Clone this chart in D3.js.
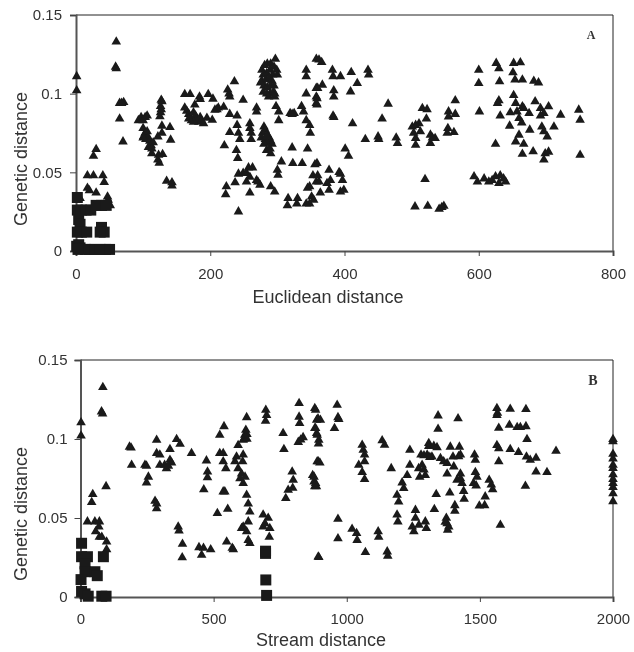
<!DOCTYPE html>
<html>
<head>
<meta charset="utf-8">
<script src="https://cdn.jsdelivr.net/npm/d3@7.9.0/dist/d3.min.js"></script>
<style>
  body { margin: 0; background: #fff; }
  svg { display: block; filter: blur(0.4px); }
  text { font-family: "Liberation Sans", Arial, sans-serif; fill: #333; }
</style>
</head>
<body>
<svg id="chart" width="634" height="652"></svg>
<script>
// Panel A: [euclidean distance, genetic distance]
const euclideanFar = [
  [1,.111],[1,.102],[60,.133],[59,.117],[60,.116],[65,.094],[71,.0945],[68,.094],[65,.084],[70,.0695],
  [30,.0647],[26,.0604],[17,.048],[26,.048],[40,.048],[42,.0437],[17,.04],[20,.0385],[30,.037],[6,.0335],
  [48,.0325],[51,.029],[47,.0345],[45,.03],
  [93,.083],[97,.085],[100,.083],[103,.085],[106,.086],[100,.078],[103,.075],[101,.073],[104,.071],[106,.076],
  [108,.072],[100,.072],[110,.07],[112,.067],[115,.069],[108,.066],[113,.065],[113,.062],[123,.061],[129,.0615],
  [122,.058],[124,.056],[127,.096],[128,.095],[126,.092],[127,.09],[126,.088],[125,.0855],[128,.0795],[140,.0787],
  [128,.075],[122,.0727],[141,.0706],[135,.0445],[143,.0435],[143,.0415],
  [162,.0996],[170,.0996],[184,.098],[185,.0965],[197,.0996],[204,.0967],[162,.091],[177,.093],[165,.089],[168,.087],
  [170,.085],[172,.083],[175,.088],[178,.086],[180,.084],[183,.082],[185,.085],[187,.083],[175,.082],[190,.081],
  [168,.084],[195,.0845],[203,.0833],[207,.0897],[212,.091],[220,.0915],[210,.09],
  [226,.1025],[236,.1077],[229,.098],[228,.1],[249,.096],[229,.087],[240,.086],[240,.08],[229,.0755],[242,.075],
  [244,.071],[221,.067],[239,.064],[241,.059],[269,.091],[269,.0886],[259,.081],[259,.078],[261,.075],[261,.071],
  [280,.079],[282,.077],[278,.075],[285,.074],[288,.072],[276,.072],[282,.071],[290,.07],[285,.069],[292,.068],
  [280,.068],[284,.073],[284,.064],[290,.062],[289,.065],
  [277,.115],[281,.118],[285,.119],[290,.119],[295,.117],[299,.115],[279,.112],[284,.113],[289,.115],[293,.112],
  [300,.112],[277,.108],[283,.109],[288,.11],[292,.108],[280,.105],[285,.104],[290,.105],[295,.105],[279,.101],
  [284,.1],[289,.1],[294,.101],[287,.098],[296,.1],[275,.107],[297,.122],[298,.092],[302,.0886],[302,.083],[296,.098],
  [319,.0875],[322,.087],[325,.0875],[336,.092],[339,.0886],[343,.115],[343,.111],[358,.122],[343,.1],[358,.1035],
  [358,.098],[358,.094],[343,.083],[348,.08],[349,.075],[322,.0657],[345,.065],
  [306,.0568],[300,.0515],[301,.0483],[323,.0558],[337,.0558],[356,.055],[353,.048],[348,.041],[358,.044],[345,.04],
  [351,.0345],[348,.03],[343,.03],[316,.0335],[315,.029],[330,.0335],[329,.03],[237,.0435],[224,.041],[223,.036],
  [242,.025],[259,.037],[290,.041],[296,.0377],[257,.053],[263,.053],[242,.049],[249,.0495],[254,.0495],[254,.044],
  [259,.047],[269,.045],[274,.042],[271,.044],
  [362,.1215],[366,.12],[382,.115],[383,.111],[394,.111],[410,.1136],[435,.115],[436,.112],[419,.1066],[409,.1013],
  [367,.1056],[360,.1035],[384,.102],[384,.098],[359,.097],[359,.093],[383,.086],[384,.085],[412,.081],[456,.084],
  [465,.0935],[431,.071],[450,.0727],[451,.071],[477,.072],[479,.0685],[401,.065],[406,.0604],
  [359,.0558],[377,.0515],[392,.05],[362,.044],[379,.045],[397,.045],[377,.0388],[364,.037],[394,.0377],[399,.0388],
  [354,.0325],[394,.049],[374,.043],[360,.048],
  [505,.0282],[524,.0286],[541,.0267],[548,.0286],[545,.0278],[520,.0456],[516,.0907],[523,.09],[522,.084],
  [501,.079],[511,.081],[506,.08],[513,.076],[503,.075],[506,.0717],[506,.0674],[528,.0738],[535,.0717],[528,.0685],
  [531,.072],[565,.0956],[555,.0886],[565,.087],[555,.0854],[554,.078],[563,.0755],[553,.075],
  [600,.115],[600,.1066],[601,.0886],[626,.1194],[630,.116],[631,.1077],[652,.1194],[662,.1198],[651,.1134],[654,.1088],
  [665,.1088],[682,.108],[689,.107],[652,.099],[630,.0956],[628,.094],[632,.086],[655,.094],[665,.0918],[647,.088],
  [657,.0886],[667,.0907],[675,.0875],[684,.095],[692,.0907],[704,.0918],[697,.0875],[692,.086],[722,.0865],
  [646,.0795],[664,.0816],[660,.0844],[676,.077],[694,.079],[697,.076],[712,.079],[702,.0727],[660,.0738],[655,.0695],
  [667,.068],[625,.068],[665,.0617],[681,.0632],[699,.062],[704,.063],[697,.058],[749,.0897],[751,.0833],[751,.061],
  [593,.0473],[598,.044],[608,.046],[615,.044],[625,.0473],[632,.048],[640,.044],[630,.043],[620,.045],[637,.046]
];
const euclideanNear = [
  [2,.034],[2,.026],[8,.026],[15,.026],[22,.026],[30,.029],[38,.029],[45,.029],[4,.02],[6,.017],
  [2,.012],[8,.012],[16,.012],[38,.015],[42,.012],[36,.012],[1,.003],[4,.004],[6,.002],[14,.001],
  [20,.001],[28,.001],[36,.001],[44,.001],[50,.001],[3,.001]
];

// Panel B: [stream distance, genetic distance]
const streamFar = [
  [2,.1104],[2,.102],[84,.1327],[79,.1173],[83,.116],[96,.07],[46,.065],[42,.06],[26,.0477],[54,.0477],
  [71,.0477],[69,.0445],[57,.0414],[71,.038],[98,.035],[98,.03],[80,.038],
  [190,.0945],[184,.095],[192,.0835],[242,.0835],[248,.083],[255,.076],[248,.0724],[286,.0994],[286,.091],[298,.09],
  [298,.0835],[323,.0814],[336,.0867],[336,.0935],[361,.0998],[374,.0968],[417,.091],[342,.085],[316,.0835],[330,.083],
  [280,.0608],[286,.056],[286,.059],[367,.0445],[370,.042],[383,.0335],[382,.025],[445,.0314],[455,.0266],[462,.031],
  [489,.03],[473,.0863],[477,.0793],[477,.0757],[463,.068],[539,.108],[523,.1025],[523,.091],[536,.091],[536,.0857],
  [546,.0814],[536,.0667],[542,.0667],[514,.053],[553,.0557],[549,.035],[570,.031],[574,.03],
  [624,.1137],[621,.1057],[617,.1025],[611,.0994],[592,.096],[586,.0888],[580,.0857],[611,.09],[609,.0857],[592,.0814],
  [605,.078],[599,.075],[611,.072],[624,.0646],[630,.059],[636,.054],[630,.0477],[611,.0445],[624,.0414],[630,.036],
  [636,.034],[605,.0435],[625,.103],[614,.1],[618,.076],[625,.1],
  [696,.1184],[695,.1114],[699,.115],[686,.052],[705,.05],[686,.0445],[711,.0435],[709,.038],[693,.0465],
  [761,.1036],[764,.0935],[795,.0793],[799,.074],[780,.0677],[771,.0625],[797,.069],[821,.1226],[821,.114],[823,.11],
  [818,.098],[836,.101],[827,.0995],[880,.1194],[887,.112],[880,.1068],[887,.1036],[893,.0857],[872,.077],[877,.073],
  [880,.07],[893,.0255],
  [883,.1184],[892,.113],[901,.112],[883,.1068],[889,.1025],[895,.0994],[894,.097],[889,.0857],[899,.085],[877,.076],
  [883,.072],[886,.07],[964,.1215],[967,.1137],[970,.1125],[954,.1068],[967,.0494],[967,.037],[895,.0251],
  [1020,.043],[1037,.0403],[1039,.036],[1070,.0283],[1118,.0414],[1120,.038],[1152,.0287],[1154,.026],
  [1058,.0962],[1062,.093],[1067,.09],[1045,.0835],[1067,.0857],[1058,.079],[1067,.0745],[1133,.099],[1142,.0962],
  [1167,.0814],[1237,.093],[1237,.0835],[1227,.077],[1208,.0724],[1214,.0688],[1189,.0645],[1195,.0603],[1189,.052],
  [1192,.0477],[1258,.055],[1258,.05],[1246,.0445],[1252,.0414],[1271,.0456],[1295,.0477],[1299,.0435],[1329,.0555],
  [1336,.065],[1387,.066],[1406,.058],[1406,.0544],[1374,.05],[1377,.0466],[1379,.0424],[1370,.0475],[1383,.0445],
  [1343,.1148],[1343,.1063],[1418,.113],[1308,.0973],[1279,.09],[1302,.09],[1320,.0888],[1308,.0955],[1339,.0947],
  [1327,.0955],[1389,.095],[1423,.095],[1352,.0878],[1364,.0857],[1377,.0846],[1399,.0888],[1427,.09],[1420,.089],
  [1402,.0825],[1290,.0895],[1312,.0885],[1270,.0814],[1283,.0835],[1295,.077],[1274,.076],[1290,.0805],
  [1377,.078],[1427,.078],[1414,.074],[1433,.072],[1439,.067],[1441,.062],[1427,.075],[1480,.09],[1483,.0867],
  [1483,.079],[1489,.076],[1476,.072],[1486,.0705],[1535,.074],[1543,.071],[1548,.068],[1520,.0635],[1498,.0578],
  [1518,.058],[1577,.0456],[1571,.0857],[1564,.1194],[1566,.1165],[1564,.115],[1571,.107],[1564,.096],[1571,.094],
  [1614,.119],[1673,.1188],[1611,.1088],[1640,.1074],[1652,.1074],[1673,.108],[1614,.0935],[1645,.0916],[1677,.0998],
  [1675,.0888],[1689,.0867],[1711,.088],[1711,.0793],[1752,.079],[1786,.0924],[1671,.0703],
  [2000,.0998],[2000,.0985],[2000,.0905],[2000,.0875],[2000,.0835],[2000,.0815],[2000,.0775],[2000,.0745],
  [2000,.072],[2000,.0695],[2000,.0655],[2000,.0605]
];
const streamNear = [
  [4,.034],[4,.0255],[26,.0255],[86,.0255],[17,.021],[17,.016],[54,.016],[63,.0135],[2,.011],[4,.0035],
  [17,.002],[29,.0005],[80,.0005],[96,.0005],[695,.0276],[695,.029],[696,.0108],[699,.001]
];

const geneticTicks = [0, 0.05, 0.1, 0.15];
const euclideanTicks = [0, 200, 400, 600, 800];
const streamTicks = [0, 500, 1000, 1500, 2000];

const svg = d3.select('#chart');

function drawPanel(opts) {
  const xScale = d3.scaleLinear().domain(opts.xDomain).range([opts.left, opts.right]);
  const yScale = d3.scaleLinear().domain([0, 0.15]).range([opts.bottom, opts.top]);
  const g = svg.append('g');

  // thin top and right frame lines
  g.append('path')
    .attr('d', `M${opts.left},${opts.top}H${opts.right}V${opts.bottom}`)
    .attr('fill', 'none')
    .attr('stroke', '#222')
    .attr('stroke-width', 1);

  const xAxis = g.append('g')
    .attr('transform', `translate(0,${opts.bottom})`)
    .call(d3.axisBottom(xScale).tickValues(opts.xTicks).tickFormat(d => String(d)).tickSize(5).tickPadding(opts.xPad));
  const yAxis = g.append('g')
    .attr('transform', `translate(${opts.left},0)`)
    .call(d3.axisLeft(yScale).tickValues(geneticTicks).tickFormat(d => String(d)).tickSize(6).tickPadding(opts.yPad));

  [xAxis, yAxis].forEach(axis => {
    axis.attr('font-size', null).attr('font-family', null);
    axis.selectAll('.domain').attr('stroke', '#555').attr('stroke-width', 2);
    axis.selectAll('.tick line').attr('stroke', '#444');
    axis.selectAll('.tick text').attr('fill', '#444').style('font-size', '15px');
  });

  // triangles first, squares on top
  const triangle = d3.symbol().type(d3.symbolTriangle).size(40);
  const square = d3.symbol().type(d3.symbolSquare).size(121);

  g.append('g').selectAll('path')
    .data(opts.far)
    .join('path')
    .attr('d', triangle)
    .attr('transform', d => `translate(${xScale(d[0])},${yScale(d[1])})`)
    .attr('fill', '#1a1a1a');

  g.append('g').selectAll('path')
    .data(opts.near)
    .join('path')
    .attr('d', square)
    .attr('transform', d => `translate(${xScale(d[0])},${yScale(d[1])})`)
    .attr('fill', '#1a1a1a');

  g.append('text')
    .attr('x', opts.xTitleX)
    .attr('y', opts.bottom + opts.xTitleGap)
    .attr('text-anchor', 'middle')
    .style('font-size', '18px')
    .text(opts.xTitle);

  g.append('text')
    .attr('transform', `translate(27,${opts.yTitleY}) rotate(-90)`)
    .attr('text-anchor', 'middle')
    .style('font-size', '18px')
    .text('Genetic distance');

  g.append('text')
    .attr('x', opts.labelX)
    .attr('y', opts.labelY)
    .attr('text-anchor', 'middle')
    .style('font-family', '"Liberation Serif", serif')
    .style('font-weight', 'bold')
    .style('font-size', opts.labelSize)
    .text(opts.label);
}

drawPanel({
  far: euclideanFar, near: euclideanNear,
  xDomain: [0, 800], xTicks: euclideanTicks, xPad: 12, yPad: 8,
  left: 76, right: 613, top: 15, bottom: 251,
  xTitle: 'Euclidean distance', xTitleX: 328, xTitleGap: 52, yTitleY: 159,
  label: 'A', labelX: 591, labelY: 39, labelSize: '12px'
});

drawPanel({
  far: streamFar, near: streamNear,
  xDomain: [0, 2000], xTicks: streamTicks, xPad: 11, yPad: 7,
  left: 80.5, right: 613, top: 360, bottom: 597,
  xTitle: 'Stream distance', xTitleX: 321, xTitleGap: 49, yTitleY: 514,
  label: 'B', labelX: 593, labelY: 385, labelSize: '14px'
});
</script>
</body>
</html>
